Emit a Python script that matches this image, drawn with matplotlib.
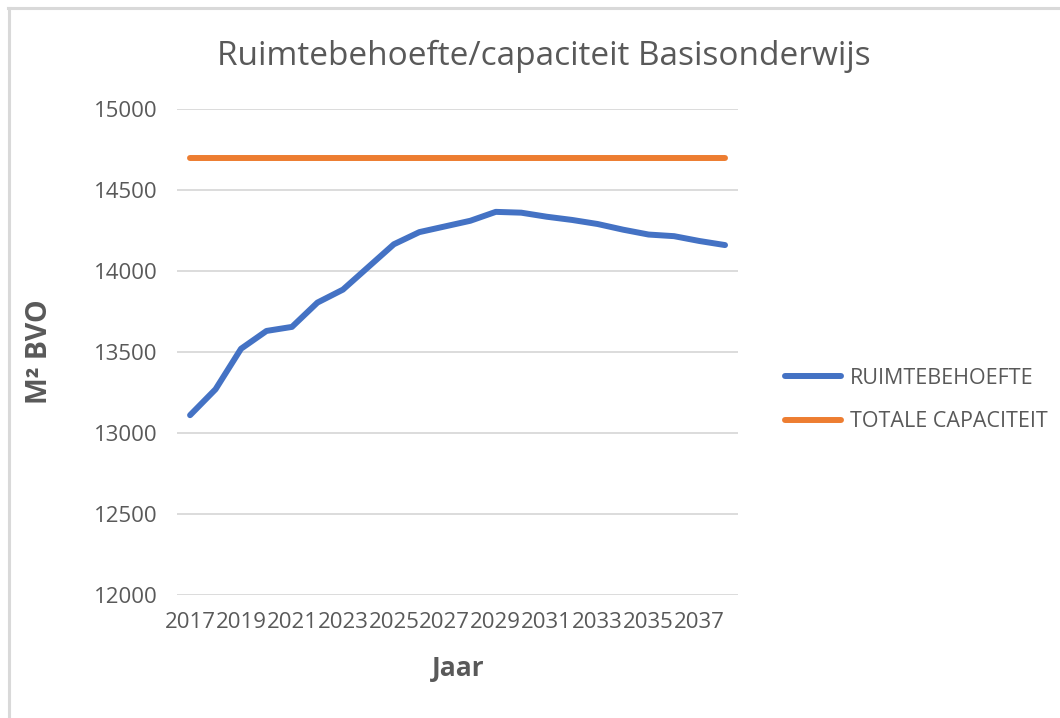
import matplotlib
matplotlib.use('Agg')
import matplotlib.pyplot as plt
from matplotlib.lines import Line2D

plt.rcParams['font.family'] = ['Open Sans', 'DejaVu Sans']

GREY = '#595959'
GRID = '#D9D9D9'

# data
years = [2017, 2018, 2019, 2020, 2021, 2022, 2023, 2024, 2025, 2026, 2027,
         2028, 2029, 2030, 2031, 2032, 2033, 2034, 2035, 2036, 2037, 2038]
ruimtebehoefte = [13110, 13270, 13520, 13630, 13655, 13805, 13885, 14025, 14165, 14240, 14275,
                  14310, 14365, 14360, 14335, 14315, 14290, 14255, 14225, 14215, 14185, 14160]
capaciteit = [14700, 14700, 14700, 14700, 14700, 14700, 14700, 14700, 14700, 14700, 14700,
              14700, 14700, 14700, 14700, 14700, 14700, 14700, 14700, 14700, 14700, 14700]
tick_years = years[::2]
y_ticks = [12000, 12500, 13000, 13500, 14000, 14500, 15000]

fig = plt.figure(figsize=(10.6, 7.18), dpi=100)
ax = fig.add_axes([0.1673, 0.1713, 0.5287, 0.6769])

ax.plot(years, ruimtebehoefte, color='#4472C4', lw=4.3, solid_capstyle='round',
        solid_joinstyle='round', label='RUIMTEBEHOEFTE')
ax.plot(years, capaciteit, color='#ED7D31', lw=4.3, solid_capstyle='round',
        label='TOTALE CAPACITEIT')

ax.set_xlim(years[0] - 0.5, years[-1] + 0.5)
ax.set_ylim(12000, 15000)
ax.set_yticks(y_ticks)
ax.set_xticks(tick_years)
ax.set_xticklabels([str(y) for y in tick_years])
ax.grid(axis='y', color=GRID, lw=1.3)
ax.set_axisbelow(True)
for s in ax.spines.values():
    s.set_visible(False)
ax.tick_params(length=0, labelsize=16, colors=GREY)
ax.tick_params(axis='y', pad=14)
ax.tick_params(axis='x', pad=12)

fig.text(0.513, 0.921, 'Ruimtebehoefte/capaciteit Basisonderwijs', ha='center', va='center',
         fontsize=24, color=GREY)
fig.text(0.037, 0.51, 'M² BVO', rotation=90, ha='center', va='center',
         fontsize=20.5, fontweight='bold', color=GREY)
fig.text(0.432, 1 - 668 / 718, 'Jaar', ha='center', va='center',
         fontsize=19, fontweight='bold', color=GREY)

ax.legend(loc='center left', bbox_to_anchor=(785 / 1060, 1 - 400 / 718),
          bbox_transform=fig.transFigure, frameon=False, fontsize=15.5,
          labelcolor=GREY, handlelength=2.6, handletextpad=0.4, labelspacing=1.05,
          borderpad=0, borderaxespad=0)

# chart area border (top and left visible in the screenshot)
fig.add_artist(Line2D([8 / 1060, 1], [1 - 8 / 718, 1 - 8 / 718], color=GRID, lw=2.2,
                      transform=fig.transFigure))
fig.add_artist(Line2D([9 / 1060, 9 / 1060], [0, 1 - 8 / 718], color=GRID, lw=2.2,
                      transform=fig.transFigure))

fig.savefig('out.png', dpi=100, facecolor='white')
